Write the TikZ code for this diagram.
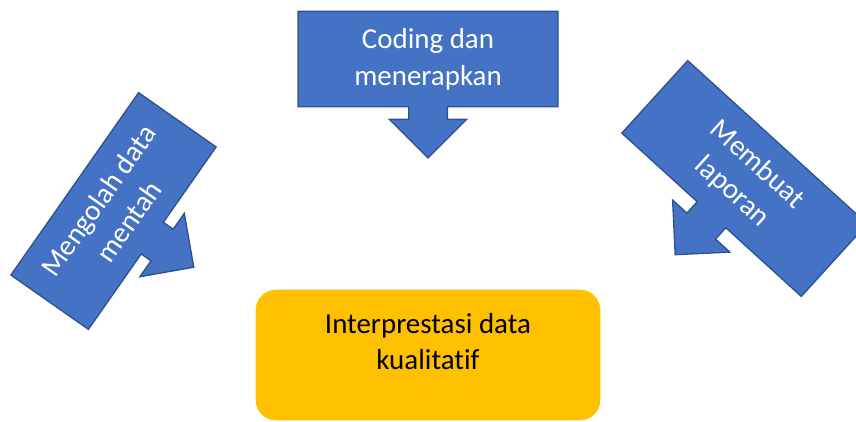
\documentclass[tikz,border=0pt]{standalone}
\usepackage{fontspec}
\setmainfont{Carlito}[Ligatures=NoCommon]
\usetikzlibrary{shapes.arrows}
\definecolor{boxblue}{HTML}{4472C4}
\definecolor{boxedge}{HTML}{2F528F}
\definecolor{boxgold}{HTML}{FFC000}
\begin{document}
\begin{tikzpicture}[x=0.75pt, y=-0.75pt,
    calloutbox/.style={arrow box, draw=boxedge, line width=1pt, fill=boxblue,
      text=white, align=center, inner sep=0pt,
      font=\fontsize{21.7}{27.5}\selectfont,
      arrow box tip angle=90, arrow box shaft width=29pt,
      arrow box head extend=14.5pt},
    resultbox/.style={draw=boxgold, fill=boxgold, rounded corners=15pt,
      minimum width=258pt, minimum height=97.5pt},
    resulttext/.style={align=center, text=black, inner sep=0pt,
      font=\fontsize{21.7}{27.5}\selectfont}]
    \useasboundingbox (0,0) rectangle (856,421);
    \clip (0,0) rectangle (856,421);

    % Result box
    \node [resultbox] (interp) at (428,355) {};
    \node [resulttext, yshift=10pt] (interptext) at (interp.center)
          {Interprestasi data\\kualitatif};

    % Callouts
    \node [calloutbox, minimum width=195pt, minimum height=71.5pt,
           arrow box arrows={south:38pt}] (coding) at (428,59)
          {Coding dan\\menerapkan};
    \node [calloutbox, rotate=55, minimum width=167pt, minimum height=71pt,
           arrow box arrows={south:37.5pt}] (olah) at (113.5,211)
          {Mengolah data\\mentah};
    \node [calloutbox, rotate=-42.3, minimum width=182pt, minimum height=73.5pt,
           arrow box arrows={south:40pt}] (lapor) at (744.5,178.5)
          {Membuat\\laporan};
\end{tikzpicture}
\end{document}
